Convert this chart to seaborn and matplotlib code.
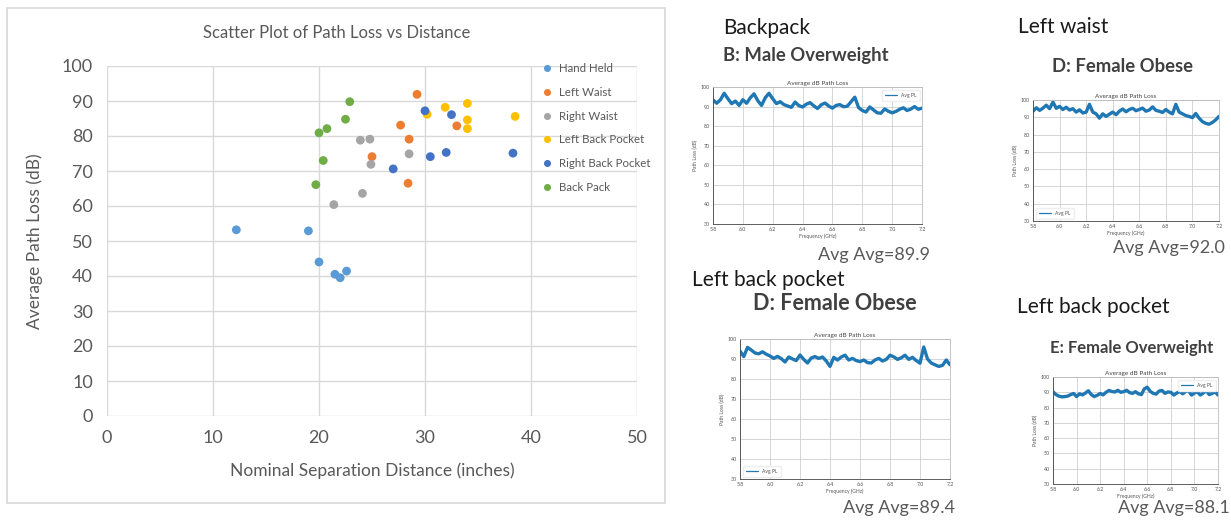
import numpy as np
import pandas as pd
import matplotlib
matplotlib.use('Agg')
import matplotlib.pyplot as plt
import seaborn as sns
from matplotlib.patches import Rectangle

sns.set_style('white')
plt.rcParams['font.family'] = ['Lato', 'DejaVu Sans']

# -------------------------------
# Scatter data (distance in inches, path loss in dB)
# -------------------------------
hand_held_x = [12.2, 19.0, 20.0, 21.5, 22.0, 22.6]
hand_held_y = [53.2, 52.9, 44.0, 40.5, 39.5, 41.4]
left_waist_x = [29.25, 27.7, 33.0, 28.5, 25.0, 28.4]
left_waist_y = [91.9, 83.1, 82.9, 79.1, 74.1, 66.5]
right_waist_x = [23.9, 24.8, 28.5, 24.9, 24.1, 21.4]
right_waist_y = [78.8, 79.1, 74.9, 71.9, 63.6, 60.4]
left_back_x = [31.9, 34.0, 30.2, 34.0, 34.0, 38.5]
left_back_y = [88.2, 89.3, 86.2, 84.6, 82.1, 85.6]
right_back_x = [30.0, 32.5, 30.5, 32.0, 38.3, 27.0]
right_back_y = [87.2, 86.1, 74.1, 75.3, 75.1, 70.6]
back_pack_x = [22.9, 22.5, 20.75, 20.0, 20.4, 19.7]
back_pack_y = [89.8, 84.8, 82.1, 80.9, 73.0, 66.1]

locations = ['Hand Held', 'Left Waist', 'Right Waist', 'Left Back Pocket',
             'Right Back Pocket', 'Back Pack']
loc_colors = ['#5B9BD5', '#ED7D31', '#A5A5A5', '#FFC000', '#4472C4', '#70AD47']

# -------------------------------
# Frequency sweeps (GHz) and average path loss (dB)
# -------------------------------
freq = [5.800, 5.825, 5.850, 5.875, 5.900, 5.925, 5.950, 5.975, 6.000, 6.025,
        6.050, 6.075, 6.100, 6.125, 6.150, 6.175, 6.200, 6.225, 6.250, 6.275,
        6.300, 6.325, 6.350, 6.375, 6.400, 6.425, 6.450, 6.475, 6.500, 6.525,
        6.550, 6.575, 6.600, 6.625, 6.650, 6.675, 6.700, 6.725, 6.750, 6.775,
        6.800, 6.825, 6.850, 6.875, 6.900, 6.925, 6.950, 6.975, 7.000, 7.025,
        7.050, 7.075, 7.100, 7.125, 7.150, 7.175, 7.200]

pl_backpack_b = [93.4, 91.7, 93.5, 96.8, 94.0, 91.5, 92.8, 90.6, 93.5, 91.7,
                 94.5, 96.5, 93.0, 90.6, 94.5, 96.8, 94.0, 91.5, 92.5, 91.0,
                 90.3, 89.6, 92.3, 90.5, 89.8, 91.2, 92.0, 90.4, 89.0, 90.9,
                 91.8, 90.3, 89.2, 90.6, 91.0, 89.9, 90.2, 92.5, 94.8, 89.5,
                 88.0, 87.2, 89.8, 88.3, 86.8, 86.6, 88.8, 87.6, 86.8, 87.5,
                 88.6, 89.4, 88.0, 88.7, 90.0, 88.6, 89.2]
pl_waist_d = [93.5, 95.5, 94.0, 95.3, 97.0, 95.0, 98.8, 95.2, 96.3, 94.5,
              95.8, 94.2, 95.0, 93.0, 94.3, 92.5, 93.0, 97.5, 93.0, 92.0,
              89.5, 92.0, 90.5, 91.8, 93.0, 91.5, 93.5, 94.8, 93.2, 94.5,
              95.2, 93.8, 94.5, 95.3, 93.5, 94.2, 96.0, 94.0, 93.5, 92.8,
              94.5, 93.0, 92.0, 97.5, 93.0, 92.0, 91.0, 90.5, 89.8, 92.2,
              89.5, 87.5, 86.5, 86.0, 87.0, 88.5, 90.5]
pl_pocket_d = [94.0, 91.2, 95.8, 94.5, 93.0, 92.6, 93.6, 92.4, 91.5, 90.3,
               91.3, 90.2, 88.5, 91.0, 90.0, 89.2, 92.0, 89.8, 88.0, 90.5,
               91.2, 90.3, 91.0, 89.0, 86.3, 90.8, 89.5, 91.0, 91.9, 89.5,
               90.3, 89.2, 88.7, 89.5, 88.2, 88.0, 89.5, 90.3, 89.0, 89.8,
               91.9, 91.1, 89.8, 90.6, 91.9, 89.8, 90.8, 89.2, 87.9, 96.0,
               90.0, 88.0, 87.1, 86.3, 86.8, 89.5, 87.1]
pl_pocket_e = [90.3, 88.5, 87.5, 87.0, 87.2, 87.5, 88.5, 89.2, 87.2, 89.0,
               88.3, 89.5, 91.0, 88.5, 87.2, 88.0, 89.2, 88.3, 90.0, 91.2,
               90.5, 90.2, 91.3, 90.0, 90.4, 91.3, 89.8, 89.3, 90.4, 89.0,
               88.5, 92.3, 93.3, 90.6, 89.3, 88.8, 90.8, 91.2, 89.3, 90.2,
               90.0, 88.2, 89.5, 90.5, 89.0, 90.5, 91.0, 88.2, 89.5, 90.3,
               88.2, 89.5, 91.2, 88.5, 89.2, 90.3, 88.2]

freq_ticks = [5.8, 6.0, 6.2, 6.4, 6.6, 6.8, 7.0, 7.2]
pl_ticks = [30, 40, 50, 60, 70, 80, 90, 100]

W, H = 1231, 520
fig = plt.figure(figsize=(W / 100, H / 100), dpi=100, facecolor='white')


def fx(px):
    return px / W


def fy(py):
    return 1 - py / H


# -------------------------------
# Left: Excel-style scatter chart
# -------------------------------
fig.patches.append(Rectangle((fx(7), fy(503)), fx(665) - fx(7), fy(8) - fy(503),
                             transform=fig.transFigure, fill=False,
                             edgecolor='#D9D9D9', linewidth=1.2))

scatter_df = pd.concat([
    pd.DataFrame({'x': hand_held_x, 'y': hand_held_y, 'loc': locations[0]}),
    pd.DataFrame({'x': left_waist_x, 'y': left_waist_y, 'loc': locations[1]}),
    pd.DataFrame({'x': right_waist_x, 'y': right_waist_y, 'loc': locations[2]}),
    pd.DataFrame({'x': left_back_x, 'y': left_back_y, 'loc': locations[3]}),
    pd.DataFrame({'x': right_back_x, 'y': right_back_y, 'loc': locations[4]}),
    pd.DataFrame({'x': back_pack_x, 'y': back_pack_y, 'loc': locations[5]}),
], ignore_index=True)

ax = fig.add_axes([fx(107), fy(416), fx(637) - fx(107), fy(66) - fy(416)])
sns.scatterplot(data=scatter_df, x='x', y='y', hue='loc', hue_order=locations,
                palette=loc_colors, s=40, edgecolor='none', ax=ax, zorder=3)
ax.set_xlim(0, 50)
ax.set_ylim(0, 100)
ax.set_xticks(range(0, 51, 10))
ax.set_yticks(range(0, 101, 10))
ax.grid(True, color='#D9D9D9', linewidth=1.0)
for s in ax.spines.values():
    s.set_visible(False)
ax.tick_params(axis='both', length=0, labelsize=13, labelcolor='#595959', pad=10)
ax.set_xlabel('Nominal Separation Distance (inches)', fontsize=12.5, color='#595959', labelpad=12)
ax.set_ylabel('Average Path Loss (dB)', fontsize=12.5, color='#595959', labelpad=14)
fig.text(fx(337), fy(33), 'Scatter Plot of Path Loss vs Distance', fontsize=12,
         color='#595959', ha='center', va='center')
leg = ax.legend(loc='upper left', bbox_to_anchor=(fx(530), fy(57)),
                bbox_transform=fig.transFigure, frameon=False, fontsize=8.3,
                handletextpad=0.0, labelspacing=1.12, borderpad=0, markerscale=0.8)
for t in leg.get_texts():
    t.set_color('#595959')

# -------------------------------
# Right: four frequency-sweep panels
# -------------------------------
panels = [
    dict(rect=(713, 922, 87, 224), y=pl_backpack_b, leg='upper right',
         head='Backpack', head_xy=(723, 28), sub='B: Male Overweight', sub_xy=(723, 55),
         sub_size=13.3, avg='Avg Avg=89.9', avg_xy=(930, 255)),
    dict(rect=(1033, 1219, 100, 221), y=pl_waist_d, leg='lower left',
         head='Left waist', head_xy=(1018, 27), sub='D: Female Obese', sub_xy=(1052, 67),
         sub_size=13.3, avg='Avg Avg=92.0', avg_xy=(1225, 248)),
    dict(rect=(740, 950, 339, 479), y=pl_pocket_d, leg='lower left',
         head='Left back pocket', head_xy=(692, 280), sub='D: Female Obese', sub_xy=(753, 303),
         sub_size=15.5, avg='Avg Avg=89.4', avg_xy=(955, 508)),
    dict(rect=(1053, 1218, 377, 484), y=pl_pocket_e, leg='upper right',
         head='Left back pocket', head_xy=(1017, 307), sub='E: Female Overweight', sub_xy=(1050, 348),
         sub_size=12, avg='Avg Avg=88.1', avg_xy=(1230, 508)),
]

for p in panels:
    l, r, t, b = p['rect']
    a = fig.add_axes([fx(l), fy(b), fx(r) - fx(l), fy(t) - fy(b)])
    sns.lineplot(x=freq, y=p['y'], color='#1f77b4', linewidth=2.4, label='Avg PL', ax=a)
    a.set_xlim(5.8, 7.2)
    a.set_ylim(30, 100)
    a.set_xticks(freq_ticks)
    a.set_xticklabels([f'{v:.1f}' for v in freq_ticks])
    a.set_yticks(pl_ticks)
    a.grid(True, color='#cfcfcf', linewidth=0.6)
    for name, s in a.spines.items():
        s.set_linewidth(0.6)
        s.set_color('#444444' if name in ('left', 'bottom') else '#bbbbbb')
    a.tick_params(axis='both', labelsize=3.8, labelcolor='#555555', length=1.2,
                  width=0.4, pad=1, colors='#555555')
    a.set_title('Average dB Path Loss', fontsize=4.6, color='#444444', pad=1.5)
    a.set_xlabel('Frequency (GHz)', fontsize=3.6, color='#555555', labelpad=1)
    a.set_ylabel('Path Loss (dB)', fontsize=3.6, color='#555555', labelpad=2)
    lg = a.legend(loc=p['leg'], fontsize=3.6, frameon=True, handlelength=2.5,
                  borderpad=0.6, framealpha=1, edgecolor='#eeeeee')
    for line in lg.get_lines():
        line.set_linewidth(0.9)
    for txt in lg.get_texts():
        txt.set_color('#555555')

    fig.text(fx(p['head_xy'][0]), fy(p['head_xy'][1]), p['head'], fontsize=15,
             color='#1a1a1a', ha='left', va='center')
    fig.text(fx(p['sub_xy'][0]), fy(p['sub_xy'][1]), p['sub'], fontsize=p['sub_size'],
             fontweight='bold', color='#404040', ha='left', va='center')
    fig.text(fx(p['avg_xy'][0]), fy(p['avg_xy'][1]), p['avg'], fontsize=13,
             color='#595959', ha='right', va='center')

fig.savefig('out.png', dpi=100, facecolor='white')
